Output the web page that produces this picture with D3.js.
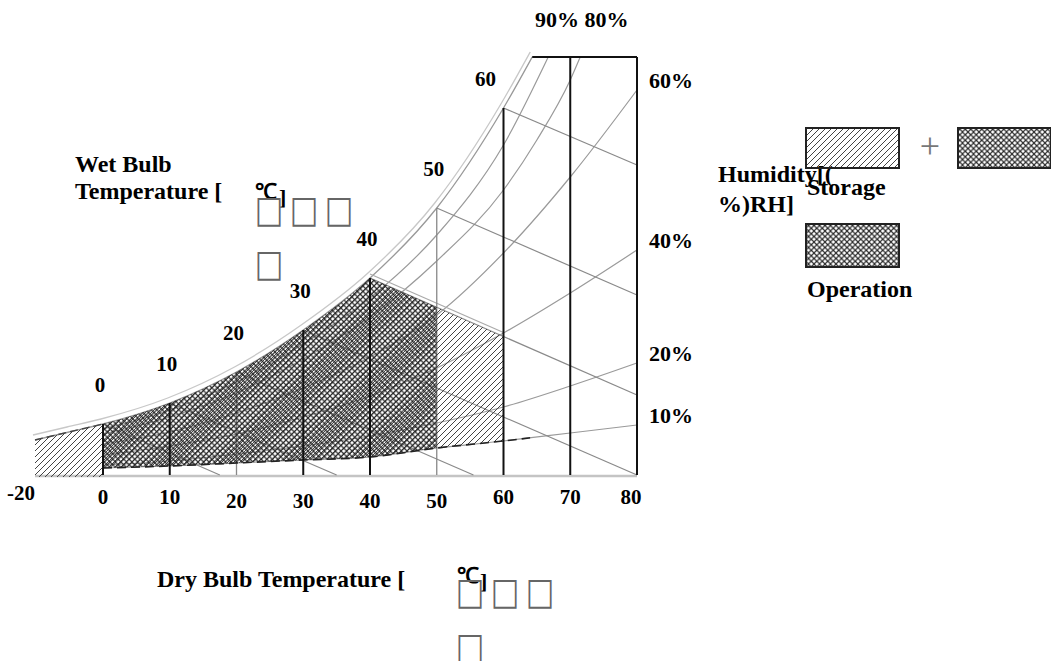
<!DOCTYPE html>
<html><head><meta charset="utf-8">
<script src="https://cdn.jsdelivr.net/npm/d3@7"></script>
<style>
body{margin:0;background:#fff}
svg{display:block}
text{font-family:"Liberation Serif","Times New Roman",serif;font-weight:bold;fill:#000}
</style>
</head><body>
<svg id="c" width="1051" height="661"></svg>
<script>
// ---- data ----
const dryBulbTicks = [-20, 0, 10, 20, 30, 40, 50, 60, 70, 80];
const dryLinesDark = [0, 10, 30, 40, 60, 70, 80];
const dryLinesLight = [20, 50];
// saturation (100% RH) curve, moisture index units
const satT = [-20, -10, 0, 10, 20, 30, 40, 50, 60, 64.3];
const satH = [35, 43, 51, 72, 103, 145, 197, 267, 367, 418];
// relative humidity curves
const rh90T = [0, 10, 20, 30, 40, 50, 60, 66.7];
const rh90H = [46, 65, 93, 131, 177, 240, 330, 418];
const rh80T = [0, 10, 20, 30, 40, 50, 60, 65, 70, 71.5];
const rh80H = [41, 58, 82, 116, 158, 214, 285, 335, 395, 418];
const rhT = [0, 10, 20, 30, 40, 50, 60, 70, 80];
const rh60H = [31, 43, 62, 87, 118, 160, 222, 298, 385];
const rh40H = [20, 29, 41, 58, 79, 107, 142, 182, 225];
const rh20H = [10, 14, 21, 29, 39, 52, 68, 89, 112];
const rh10H = [7, 9, 12, 15, 18, 27, 34, 42, 50];
const rhLabels = ["60%", "40%", "20%", "10%"];
const topLabel = "90% 80%";
// wet-bulb lines: start on saturation, end points
const wbT = [0, 10, 20, 30, 40, 50, 60];
const wbEndT = [17.5, 35, 55.5, 80, 80, 80, 80];
const wbEndH = [0, 0, 0, 0, 80, 180, 310];
// regions
const storageRange = [-20, 60];
const operationRange = [0, 50];
const regionTopWb = 40;
const legendNames = ["Storage", "Operation"];

// ---- scales ----
const svg = d3.select("#c");
const x = d3.scaleLinear().domain([-20, 0, 80]).range([35, 103, 637]);
const y = d3.scaleLinear().domain([0, 418]).range([475, 57]);
const zip = (a, b) => a.map((v, i) => [v, b[i]]);
const line = d3.line().x(d => x(d[0])).y(d => y(d[1])).curve(d3.curveMonotoneX);
const satPts = zip(satT, satH);
const satAt = t => satH[satT.indexOf(t)];

// ---- patterns ----
const defs = svg.append("defs");
function pattern(id, cross, color, sw, s) {
  const p = defs.append("pattern").attr("id", id).attr("patternUnits", "userSpaceOnUse")
    .attr("width", s).attr("height", s);
  p.append("path").attr("d", `M-1,1 L1,-1 M0,${s} L${s},0 M${s-1},${s+1} L${s+1},${s-1}`)
    .attr("stroke", color).attr("stroke-width", sw);
  if (cross) p.append("path").attr("d", `M-1,${s-1} L1,${s+1} M0,0 L${s},${s} M${s-1},-1 L${s+1},1`)
    .attr("stroke", color).attr("stroke-width", sw);
}
pattern("hs", false, "#444", 1, 6);
pattern("hc", true, "#2a2a2a", 1.15, 5.5);

// clip paths
defs.append("clipPath").attr("id", "underSat").append("path")
  .attr("d", d3.area().x(d => x(d[0])).y0(y(0) + 2).y1(d => y(d[1])).curve(d3.curveMonotoneX)(satPts));
const wbi = wbT.indexOf(regionTopWb);
defs.append("clipPath").attr("id", "underWb").append("path")
  .attr("d", `M0,0 L${x(regionTopWb)},0 L${x(regionTopWb)},${y(satAt(regionTopWb))} L${x(wbEndT[wbi])},${y(wbEndH[wbi])} L${x(wbEndT[wbi])},661 L0,661 Z`);
const cp10 = defs.append("clipPath").attr("id", "above10");
cp10.append("rect").attr("x", 0).attr("y", 0).attr("width", x(0)).attr("height", 661);
cp10.append("path").attr("d", d3.area().x(d => x(d[0])).y0(0).y1(d => y(d[1])).curve(d3.curveMonotoneX)(zip(rhT, rh10H)));
defs.append("clipPath").attr("id", "dashPart").append("rect")
  .attr("x", x(0)).attr("y", 0).attr("width", x(64) - x(0)).attr("height", 661);

// ---- grid (gray) ----
const g = svg.append("g").attr("fill", "none");
g.append("line").attr("x1", x(-20)).attr("x2", x(80)).attr("y1", y(0) + 1).attr("y2", y(0) + 1)
  .attr("stroke", "#c4c4c4").attr("stroke-width", 2.5);
g.append("path").attr("d", line(satPts)).attr("stroke", "#c8c8c8").attr("stroke-width", 1.3)
  .attr("transform", "translate(-2,-5)");
g.append("path").attr("d", line(satPts)).attr("stroke", "#999").attr("stroke-width", 1.3);
[zip(rh90T, rh90H), zip(rh80T, rh80H), zip(rhT, rh60H), zip(rhT, rh40H), zip(rhT, rh20H), zip(rhT, rh10H)]
  .forEach(c => g.append("path").attr("d", line(c)).attr("stroke", "#9a9a9a").attr("stroke-width", 1.2));
wbT.forEach((t, i) => {
  g.append("line").attr("x1", x(t)).attr("y1", y(satAt(t))).attr("x2", x(wbEndT[i])).attr("y2", y(wbEndH[i]))
    .attr("stroke", "#8a8a8a").attr("stroke-width", 1.2);
});
// double edge along the region top wet-bulb line
g.append("line").attr("x1", x(regionTopWb)).attr("y1", y(satAt(regionTopWb)) - 4)
  .attr("x2", x(storageRange[1])).attr("y2", y(satAt(regionTopWb) + (wbEndH[wbi] - satAt(regionTopWb)) * (storageRange[1] - regionTopWb) / (wbEndT[wbi] - regionTopWb)) - 4)
  .attr("stroke", "#aaa").attr("stroke-width", 1.2);
dryLinesLight.forEach(t => g.append("line").attr("x1", x(t)).attr("x2", x(t))
  .attr("y1", y(Math.min(satAt(t), 418))).attr("y2", y(0)).attr("stroke", "#888").attr("stroke-width", 1.3));

// ---- hatched regions ----
function region(range, fill) {
  svg.append("g").attr("clip-path", "url(#underSat)")
    .append("g").attr("clip-path", "url(#underWb)")
    .append("g").attr("clip-path", "url(#above10)")
    .append("rect").attr("x", x(range[0])).attr("y", 0)
    .attr("width", x(range[1]) - x(range[0])).attr("height", 661).attr("fill", fill);
}
region(storageRange, "url(#hs)");
region(operationRange, "url(#hc)");

// ---- dark lines ----
const k = svg.append("g").attr("fill", "none");
k.append("path").attr("d", line(zip(rhT, rh10H))).attr("clip-path", "url(#dashPart)")
  .attr("stroke", "#222").attr("stroke-width", 1.6).attr("stroke-dasharray", "9,5");
k.append("path").attr("d", line(satPts.filter(d => d[0] <= 0)))
  .attr("stroke", "#444").attr("stroke-width", 1.3).attr("stroke-dasharray", "8,4");
dryLinesDark.forEach(t => {
  const top = satT.includes(t) ? satAt(t) : 418;
  k.append("line").attr("x1", x(t)).attr("x2", x(t)).attr("y1", y(top)).attr("y2", y(0))
    .attr("stroke", "#111").attr("stroke-width", 2);
});
k.append("line").attr("x1", x(satT[satT.length - 1])).attr("x2", x(80)).attr("y1", y(418)).attr("y2", y(418))
  .attr("stroke", "#111").attr("stroke-width", 2);

// ---- labels ----
const T = svg.append("g");
dryBulbTicks.forEach(t => {
  T.append("text").attr("x", x(t) + (t === -20 ? -14 : t === 80 ? -6 : 0))
    .attr("y", t === -20 ? 500 : (t >= 20 && t <= 50 ? 508 : 504))
    .attr("text-anchor", "middle").attr("font-size", 21).text(t);
});
wbT.forEach(t => {
  const top = t === 60;
  T.append("text").attr("x", x(t) + (top ? -18 : -3)).attr("y", y(satAt(t)) + (top ? -22 : -32))
    .attr("text-anchor", "middle").attr("font-size", 21).text(t);
});
const rhEnds = [rh60H, rh40H, rh20H, rh10H].map(a => a[a.length - 1]);
rhLabels.forEach((s, i) => T.append("text").attr("x", x(80) + 12).attr("y", y(rhEnds[i]) - 2)
  .attr("font-size", 22).text(s));
T.append("text").attr("x", 535).attr("y", 27).attr("font-size", 22).text(topLabel);

// axis titles
T.append("text").attr("x", 75).attr("y", 172).attr("font-size", 24).text("Wet Bulb");
T.append("text").attr("x", 75).attr("y", 199).attr("font-size", 24).text("Temperature [");
T.append("text").attr("x", 255).attr("y", 199).attr("font-size", 22).text("℃");
T.append("text").attr("x", 279).attr("y", 205).attr("font-size", 22).text("]");
T.append("text").attr("x", 157).attr("y", 587).attr("font-size", 24).text("Dry Bulb Temperature [");
T.append("text").attr("x", 457).attr("y", 583).attr("font-size", 22).text("℃");
T.append("text").attr("x", 480).attr("y", 589).attr("font-size", 22).text("]");
T.append("text").attr("x", 718).attr("y", 182).attr("font-size", 24).text("Humidity[(");
T.append("text").attr("x", 718).attr("y", 212).attr("font-size", 24).text("%)RH]");

// missing-glyph boxes
function tofu(x0, y0) {
  T.append("text").attr("x", 0).attr("y", 0).attr("font-size", 30)
    .attr("transform", `translate(${x0},${y0}) scale(1,1.25)`)
    .style("font-family", "DejaVu Sans").style("font-weight", "normal").style("fill", "#666").text("□");
}
[[255, 222], [290, 222], [325, 222], [255, 276], [456, 604], [491, 604], [526, 604], [456, 659]]
  .forEach(p => tofu(p[0], p[1]));

// ---- legend ----
const L = svg.append("g");
L.append("rect").attr("x", 806).attr("y", 128).attr("width", 93).attr("height", 40)
  .attr("fill", "url(#hs)").attr("stroke", "#222").attr("stroke-width", 2);
L.append("text").attr("x", 930).attr("y", 158).attr("text-anchor", "middle").attr("font-size", 36)
  .style("font-weight", "normal").style("fill", "#777").text("+");
L.append("rect").attr("x", 958).attr("y", 128).attr("width", 93).attr("height", 40)
  .attr("fill", "url(#hc)").attr("stroke", "#222").attr("stroke-width", 2);
L.append("text").attr("x", 807).attr("y", 195).attr("font-size", 24).text(legendNames[0]);
L.append("rect").attr("x", 806).attr("y", 224).attr("width", 93).attr("height", 43)
  .attr("fill", "url(#hc)").attr("stroke", "#222").attr("stroke-width", 2);
L.append("text").attr("x", 807).attr("y", 297).attr("font-size", 24).text(legendNames[1]);
</script>
</body></html>
